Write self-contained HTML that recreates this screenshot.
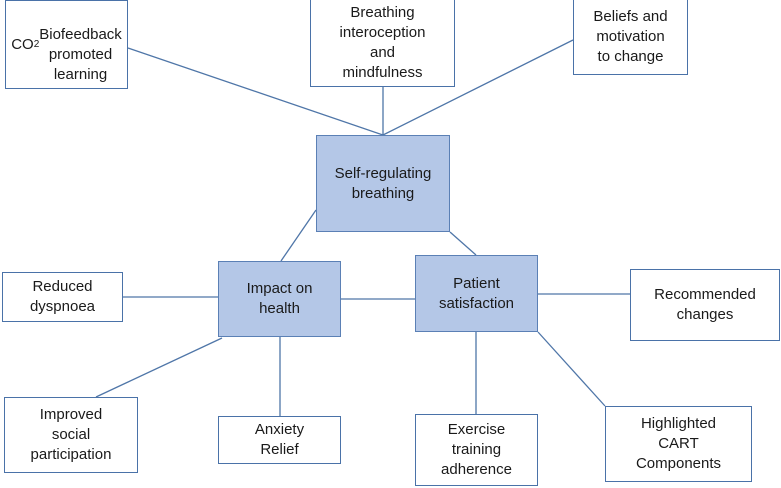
<!DOCTYPE html>
<html><head><meta charset="utf-8"><style>
body{margin:0;width:781px;height:488px;background:#fff;position:relative;overflow:hidden;font-family:"Liberation Sans",sans-serif;}
.b{position:absolute;box-sizing:border-box;border:1.5px solid #4a72a8;background:#fff;display:flex;align-items:center;justify-content:center;text-align:center;font-size:15px;line-height:20px;color:#1a1a1a;}
.f{background:#b4c7e7;border-color:#5b80b5;}
svg{position:absolute;left:0;top:0}
</style></head><body>
<svg width="781" height="488"><g stroke="#4f76a8" stroke-width="1.3">
<line x1="128" y1="48" x2="383" y2="135"/>
<line x1="383" y1="87" x2="383" y2="135"/>
<line x1="573" y1="40" x2="383" y2="135"/>
<line x1="316" y1="210" x2="281" y2="261"/>
<line x1="450" y1="232" x2="476" y2="255"/>
<line x1="123" y1="297" x2="218" y2="297"/>
<line x1="341" y1="299" x2="415" y2="299"/>
<line x1="538" y1="294" x2="630" y2="294"/>
<line x1="222" y1="338" x2="96" y2="397"/>
<line x1="280" y1="337" x2="280" y2="416"/>
<line x1="476" y1="332" x2="476" y2="414"/>
<line x1="538" y1="332" x2="605" y2="406"/>
</g></svg>
<div class="b" style="left:5px;top:0;width:123px;height:89px">CO<sub style="font-size:10px">2</sub><br>Biofeedback<br>promoted<br>learning</div>
<div class="b" style="left:310px;top:-2px;width:145px;height:89px">Breathing<br>interoception<br>and<br>mindfulness</div>
<div class="b" style="left:573px;top:-2px;width:115px;height:77px">Beliefs and<br>motivation<br>to change</div>
<div class="b f" style="left:316px;top:135px;width:134px;height:97px">Self-regulating<br>breathing</div>
<div class="b f" style="left:218px;top:261px;width:123px;height:76px">Impact on<br>health</div>
<div class="b f" style="left:415px;top:255px;width:123px;height:77px">Patient<br>satisfaction</div>
<div class="b" style="left:2px;top:272px;width:121px;height:50px">Reduced<br>dyspnoea</div>
<div class="b" style="left:630px;top:269px;width:150px;height:72px">Recommended<br>changes</div>
<div class="b" style="left:4px;top:397px;width:134px;height:76px">Improved<br>social<br>participation</div>
<div class="b" style="left:218px;top:416px;width:123px;height:48px">Anxiety<br>Relief</div>
<div class="b" style="left:415px;top:414px;width:123px;height:72px">Exercise<br>training<br>adherence</div>
<div class="b" style="left:605px;top:406px;width:147px;height:76px">Highlighted<br>CART<br>Components</div>
</body></html>
